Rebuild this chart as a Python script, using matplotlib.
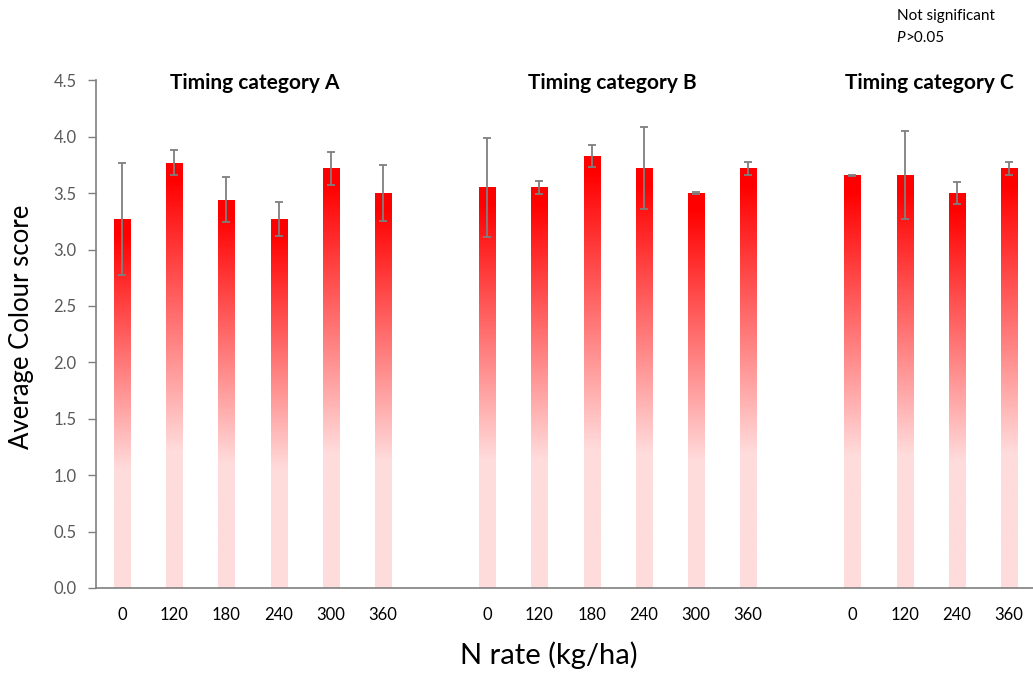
import numpy as np
import matplotlib
matplotlib.use("Agg")
import matplotlib.pyplot as plt
from matplotlib.colors import LinearSegmentedColormap

plt.rcParams['font.family'] = ['Lato', 'DejaVu Sans']

# N rates per timing category
rates_a = ["0", "120", "180", "240", "300", "360"]
rates_b = ["0", "120", "180", "240", "300", "360"]
rates_c = ["0", "120", "240", "360"]

# Mean colour score and error per bar
means_a = [3.27, 3.77, 3.44, 3.27, 3.72, 3.50]
err_a = [0.50, 0.11, 0.20, 0.15, 0.145, 0.25]
means_b = [3.55, 3.55, 3.83, 3.72, 3.50, 3.72]
err_b = [0.44, 0.055, 0.095, 0.365, 0.01, 0.055]
means_c = [3.66, 3.66, 3.50, 3.72]
err_c = [0.005, 0.39, 0.095, 0.055]

group_titles = ["Timing category A", "Timing category B", "Timing category C"]
yticks = [0.0, 0.5, 1.0, 1.5, 2.0, 2.5, 3.0, 3.5, 4.0, 4.5]

# slot positions: each group separated by one empty slot
groups = [(rates_a, means_a, err_a), (rates_b, means_b, err_b), (rates_c, means_c, err_c)]
positions, labels, values, errors, centers = [], [], [], [], []
start = 0
for rates, means, errs in groups:
    pos = list(range(start, start + len(rates)))
    positions += pos
    labels += rates
    values += means
    errors += errs
    centers.append((pos[0] + pos[-1]) / 2)
    start += len(rates) + 1

fig = plt.figure(figsize=(10.33, 6.75), dpi=100)
ax = fig.add_axes([0.093, 0.129, 0.909, 0.752])

width = 0.31
bars = ax.bar(positions, values, width=width, color="none", edgecolor="none", zorder=2)

# vertical gradient inside every bar: red at the top fading to pale pink
cmap = LinearSegmentedColormap.from_list(
    "redfade", [(0.0, "#ff0000"), (0.04, "#ff0000"), (0.68, "#ffdcdc"), (1.0, "#ffdcdc")])
grad = np.linspace(0, 1, 256).reshape(-1, 1)
for b in bars:
    x0, y0 = b.get_x(), b.get_y()
    w, h = b.get_width(), b.get_height()
    im = ax.imshow(grad, cmap=cmap, aspect="auto", origin="upper",
                   extent=[x0, x0 + w, y0, y0 + h], zorder=2, interpolation="bilinear")
    im.set_clip_path(b)

ax.errorbar(positions, values, yerr=errors, fmt="none", ecolor="#7f7f7f",
            elinewidth=1.3, capsize=3, capthick=1.3, zorder=3)

ax.set_xlim(-0.5, start - 1 - 0.5)
ax.set_ylim(0, 4.5)
ax.set_aspect("auto")
ax.set_yticks(yticks)
ax.set_yticklabels([f"{t:.1f}" for t in yticks], fontsize=12, color="#595959")
ax.set_xticks(positions)
ax.set_xticklabels(labels, fontsize=12, color="black")
ax.tick_params(axis="x", length=0, pad=14)
ax.tick_params(axis="y", length=6, width=1, color="#7f7f7f", direction="out", pad=8)

for side in ("top", "right"):
    ax.spines[side].set_visible(False)
for side in ("left", "bottom"):
    ax.spines[side].set_color("#7f7f7f")
    ax.spines[side].set_linewidth(1.2)

ax.set_ylabel("Average Colour score", fontsize=18.5)
ax.yaxis.set_label_coords(-0.066, 0.515)
ax.set_xlabel("N rate (kg/ha)", fontsize=21)
ax.xaxis.set_label_coords(0.482, -0.105)

title_offsets = [0.05, -0.1, -0.02]
for cx, off, title in zip(centers, title_offsets, group_titles):
    ax.text(cx + off, 4.48, title, ha="center", va="center", fontsize=15, fontweight="bold")

fig.text(0.868, 0.977, "Not significant", ha="left", va="center", fontsize=11)
fig.text(0.868, 0.944, "P", ha="left", va="center", fontsize=11, fontstyle="italic")
fig.text(0.8765, 0.944, ">0.05", ha="left", va="center", fontsize=11)

fig.savefig("out.png", dpi=100)
